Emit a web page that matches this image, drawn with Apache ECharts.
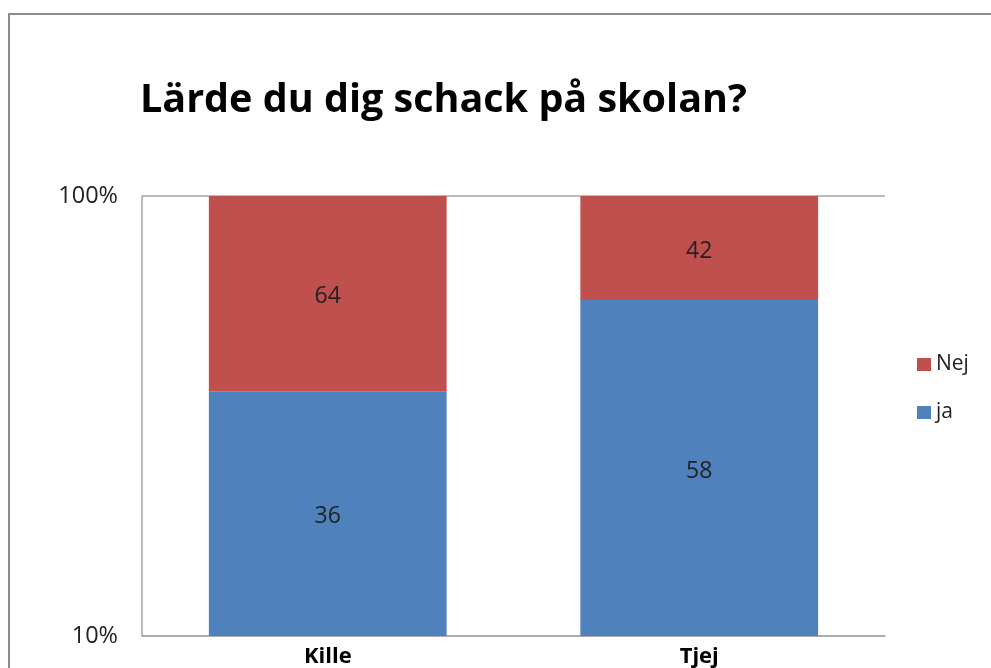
<!DOCTYPE html>
<html>
<head>
<meta charset="utf-8">
<script src="https://cdn.jsdelivr.net/npm/echarts@6/dist/echarts.min.js"></script>
<style>
  html, body { margin: 0; padding: 0; background: #fff; }
  #chart { width: 991px; height: 668px; }
</style>
</head>
<body>
<div id="chart"></div>
<script>
// data
const categories = ["Kille", "Tjej"];
const jaValues = [36, 58];
const nejValues = [64, 42];

const chart = echarts.init(document.getElementById("chart"));

const labelStyle = {
  show: true,
  position: "inside",
  offset: [0, 3],
  color: "#222",
  fontSize: 23,
  fontFamily: "Open Sans"
};

const option = {
  animation: false,
  graphic: [
    {
      type: "rect",
      shape: { x: 9, y: 14, width: 1000, height: 700 },
      style: { fill: "none", stroke: "#8c8c8c", lineWidth: 2 },
      silent: true
    }
  ],
  title: {
    text: "Lärde du dig schack på skolan?",
    left: 140,
    top: 81,
    padding: 0,
    textStyle: {
      fontFamily: "Open Sans",
      fontWeight: "bold",
      fontSize: 39.5,
      color: "#000"
    }
  },
  legend: {
    orient: "vertical",
    left: 912,
    top: 349,
    icon: "rect",
    itemWidth: 14,
    itemHeight: 13,
    itemGap: 27,
    data: ["Nej", "ja"],
    textStyle: { fontFamily: "Open Sans", fontSize: 21, color: "#222" }
  },
  grid: { left: 142, right: 106, top: 196, bottom: 31 },
  xAxis: {
    type: "category",
    data: categories,
    axisLine: { lineStyle: { color: "#a6a6a6", width: 1.5 } },
    axisTick: { show: false },
    axisLabel: {
      fontFamily: "Open Sans",
      fontWeight: "bold",
      fontSize: 22,
      color: "#000",
      margin: 10
    }
  },
  yAxis: {
    type: "log",
    logBase: 10,
    min: 10,
    max: 100,
    axisLine: { show: true, lineStyle: { color: "#a6a6a6", width: 1.5 } },
    axisTick: { show: false },
    splitLine: { show: true, lineStyle: { color: "#a6a6a6", width: 1.5 } },
    axisLabel: {
      formatter: "{value}%",
      fontFamily: "Open Sans",
      fontSize: 23.5,
      color: "#222",
      margin: 24
    }
  },
  series: [
    {
      name: "ja",
      type: "bar",
      stack: "total",
      barWidth: "64%",
      data: jaValues,
      itemStyle: { color: "#4f81bd" },
      label: labelStyle
    },
    {
      name: "Nej",
      type: "bar",
      stack: "total",
      barWidth: "64%",
      data: nejValues,
      itemStyle: { color: "#c0504d" },
      label: labelStyle
    }
  ]
};

chart.setOption(option);
</script>
</body>
</html>
